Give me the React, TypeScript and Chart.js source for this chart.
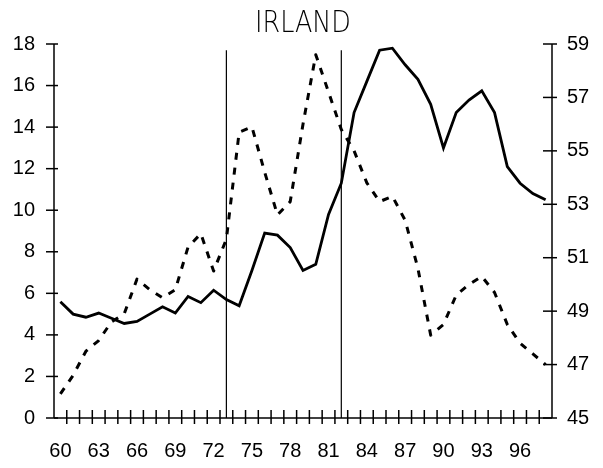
import React, { useEffect, useRef } from "react";
import { Chart, registerables } from "chart.js";

Chart.register(...registerables);

const years = [
  60, 61, 62, 63, 64, 65, 66, 67, 68, 69, 70, 71, 72, 73, 74, 75, 76, 77, 78, 79,
  80, 81, 82, 83, 84, 85, 86, 87, 88, 89, 90, 91, 92, 93, 94, 95, 96, 97, 98,
];

// solid line, left axis (0-18)
const solidSeries = [
  5.6, 5.0, 4.85, 5.05, 4.8, 4.55, 4.65, 5.0, 5.35, 5.05, 5.85, 5.55, 6.15, 5.7, 5.4, 7.1, 8.9, 8.8, 8.2, 7.1,
  7.4, 9.8, 11.3, 14.7, 16.2, 17.7, 17.8, 17.0, 16.3, 15.1, 13.0, 14.7, 15.3, 15.75, 14.7, 12.1, 11.3, 10.8, 10.5,
];

// dashed line, right axis (45-59)
const dashedSeries = [
  45.9, 46.6, 47.5, 47.9, 48.6, 48.9, 50.2, 49.8, 49.5, 49.8, 51.4, 51.9, 50.5, 51.7, 55.7, 55.9, 54.2, 52.6, 53.1, 56.0,
  58.6, 57.2, 55.8, 55.0, 53.8, 53.1, 53.3, 52.4, 50.6, 48.1, 48.5, 49.6, 50.0, 50.3, 49.7, 48.5, 47.8, 47.4, 47.0,
];

const leftTicks = [0, 2, 4, 6, 8, 10, 12, 14, 16, 18];
const rightTicks = [45, 47, 49, 51, 53, 55, 57, 59];
const markerYears = [73, 82];
const titleText = "IRLAND";

const FONT = "'Liberation Sans', Arial, sans-serif";

const drawPlugin = {
  id: "irlandDecor",
  afterDatasetsDraw(chart: any) {
    const { ctx, chartArea } = chart;
    const { left, right, bottom } = chartArea;
    const x = chart.scales.x;
    const y = chart.scales.y;
    const y1 = chart.scales.y1;
    const seg = (x0: number, y0: number, x1: number, y1p: number) => {
      ctx.beginPath();
      ctx.moveTo(x0, y0);
      ctx.lineTo(x1, y1p);
      ctx.stroke();
    };
    ctx.save();
    ctx.strokeStyle = "#000";
    ctx.lineCap = "butt";
    // marker vertical lines
    ctx.lineWidth = 1.2;
    markerYears.forEach((yr) => {
      const idx = years.indexOf(yr);
      const px = x.getPixelForValue(idx);
      seg(px, bottom, px, y.getPixelForValue(17.7));
    });
    // axes
    ctx.lineWidth = 1.5;
    const topL = y.getPixelForValue(leftTicks[leftTicks.length - 1]);
    seg(left, bottom, left, topL);
    const topR = y1.getPixelForValue(rightTicks[rightTicks.length - 1]);
    seg(right, bottom, right, topR);
    seg(left, bottom, right, bottom);
    // left ticks
    leftTicks.forEach((v) => {
      const py = y.getPixelForValue(v);
      seg(left - 8, py, left + 4, py);
    });
    // right ticks
    rightTicks.forEach((v) => {
      const py = y1.getPixelForValue(v);
      seg(right - 9, py, right + 5, py);
    });
    // x ticks at category boundaries
    for (let i = 1; i < years.length; i++) {
      const px = x.getPixelForValue(i - 0.5);
      seg(px, bottom - 8, px, bottom + 6);
    }
    // title
    ctx.fillStyle = "#000";
    ctx.font = "200 31px 'DejaVu Sans', 'Liberation Sans', sans-serif";
    ctx.textAlign = "center";
    ctx.textBaseline = "alphabetic";
    ctx.translate(303, 31.5);
    ctx.scale(0.82, 1);
    ctx.fillText(titleText, 0, 0);
    ctx.restore();
  },
};

export default function App() {
  const ref = useRef<HTMLCanvasElement | null>(null);
  useEffect(() => {
    if (!ref.current) return;
    const chart = new Chart(ref.current, {
      type: "line",
      data: {
        labels: years.map((v) => String(v)),
        datasets: [
          {
            data: solidSeries,
            yAxisID: "y",
            borderColor: "#000",
            borderWidth: 2.8,
            pointRadius: 0,
            tension: 0,
            fill: false,
          },
          {
            data: dashedSeries,
            yAxisID: "y1",
            borderColor: "#000",
            borderWidth: 3,
            borderDash: [7, 8],
            borderJoinStyle: "round",
            pointRadius: 0,
            tension: 0,
            fill: false,
          },
        ],
      },
      options: {
        animation: false,
        responsive: false,
        devicePixelRatio: 1,
        layout: { padding: { top: 44, left: 0, right: 0, bottom: 0 } },
        plugins: {
          legend: { display: false },
          tooltip: { enabled: false },
          title: { display: false },
        },
        scales: {
          x: {
            type: "category",
            offset: true,
            grid: { display: false, drawTicks: false },
            border: { display: false },
            ticks: {
              autoSkip: false,
              maxRotation: 0,
              minRotation: 0,
              padding: 21,
              color: "#000",
              font: { family: FONT, size: 20 },
              callback: (_v: any, i: number) => (years[i] % 3 === 0 ? String(years[i]) : ""),
            },
            afterFit: (s: any) => {
              s.height = 50;
            },
          },
          y: {
            type: "linear",
            position: "left",
            min: 0,
            max: 18,
            grid: { display: false, drawTicks: false },
            border: { display: false },
            afterBuildTicks: (s: any) => {
              s.ticks = leftTicks.map((v) => ({ value: v }));
            },
            ticks: {
              padding: 19,
              color: "#000",
              font: { family: FONT, size: 20 },
            },
            afterFit: (s: any) => {
              s.width = 54;
            },
          },
          y1: {
            type: "linear",
            position: "right",
            min: 45,
            max: 59,
            grid: { display: false, drawTicks: false },
            border: { display: false },
            afterBuildTicks: (s: any) => {
              s.ticks = rightTicks.map((v) => ({ value: v }));
            },
            ticks: {
              padding: 15,
              color: "#000",
              font: { family: FONT, size: 20 },
            },
            afterFit: (s: any) => {
              s.width = 51;
            },
          },
        },
      },
      plugins: [drawPlugin],
    });
    return () => chart.destroy();
  }, []);
  return (
    <div style={{ position: "fixed", left: 0, top: 0, width: 603, height: 468, background: "#fff" }}>
      <canvas ref={ref} width={603} height={468} style={{ width: 603, height: 468 }} />
    </div>
  );
}
